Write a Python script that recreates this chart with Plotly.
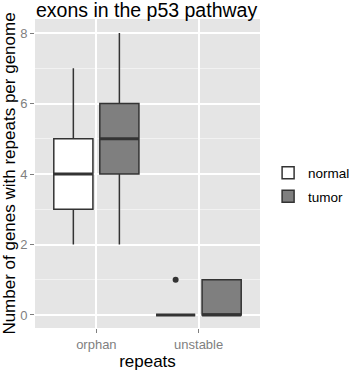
import plotly.graph_objects as go

categories = ["orphan", "unstable"]
# precomputed box statistics
normal_q1 = [3, 0]
normal_median = [4, 0]
normal_q3 = [5, 0]
normal_low = [2, 0]
normal_high = [7, 0]
normal_outlier_cat = ["unstable"]
normal_outlier_val = [1]

tumor_q1 = [4, 0]
tumor_median = [5, 0]
tumor_q3 = [6, 1]
tumor_low = [2, 0]
tumor_high = [8, 1]

y_ticks = [0, 2, 4, 6, 8]

line_col = "#333333"
BOXGAP = 0.1
BOXGROUPGAP = 0.15
SLOT = (1 - BOXGAP) / 2           # width of each dodged slot
GROUP_OFFSET = SLOT / 2            # centre offset of each dodged box
BOX_W = SLOT * (1 - BOXGROUPGAP)   # drawn box width

xpos = list(range(len(categories)))
idx = {c: i for i, c in enumerate(categories)}


def median_segments(medians, sign):
    xs, ys = [], []
    for i, m in zip(xpos, medians):
        c = i + sign * GROUP_OFFSET
        xs += [c - BOX_W / 2, c + BOX_W / 2, None]
        ys += [m, m, None]
    return xs, ys


fig = go.Figure()
fig.add_trace(go.Box(
    name="normal", x=xpos, legendgroup="normal",
    q1=normal_q1, median=normal_median, q3=normal_q3,
    lowerfence=normal_low, upperfence=normal_high,
    fillcolor="white", line=dict(color=line_col, width=1.5),
    boxpoints=False, whiskerwidth=0, hoverinfo="skip",
))
fig.add_trace(go.Box(
    name="tumor", x=xpos, legendgroup="tumor",
    q1=tumor_q1, median=tumor_median, q3=tumor_q3,
    lowerfence=tumor_low, upperfence=tumor_high,
    fillcolor="#7f7f7f", line=dict(color=line_col, width=1.5),
    boxpoints=False, whiskerwidth=0, hoverinfo="skip",
))
for med, sign in ((normal_median, -1), (tumor_median, 1)):
    mx, my = median_segments(med, sign)
    fig.add_trace(go.Scatter(x=mx, y=my, mode="lines", showlegend=False,
                             line=dict(color=line_col, width=3), hoverinfo="skip"))
fig.add_trace(go.Scatter(
    x=[idx[c] - GROUP_OFFSET for c in normal_outlier_cat], y=normal_outlier_val,
    mode="markers", marker=dict(color=line_col, size=6), showlegend=False,
))

fig.update_layout(
    width=351, height=371,
    margin=dict(l=35, r=91, t=19, b=43, autoexpand=False),
    paper_bgcolor="white", plot_bgcolor="#E5E5E5",
    boxmode="group", boxgap=BOXGAP, boxgroupgap=BOXGROUPGAP,
    font=dict(family="Liberation Sans, Arial, sans-serif", color="black"),
    title=dict(text="exons in the p53 pathway", x=36/351, xanchor="left",
               xref="container", y=1 - 10/371, yanchor="middle", yref="container",
               font=dict(size=19.5, color="black")),
    legend=dict(x=1.036, xanchor="left", y=0.463, yanchor="middle",
                font=dict(size=13.5, color="black"), bgcolor="rgba(0,0,0,0)",
                tracegroupgap=3),
    showlegend=True,
)
fig.update_xaxes(
    tickvals=xpos, ticktext=categories, automargin=False,
    range=[-0.6, 1.6], showgrid=True, gridcolor="white", gridwidth=1.5,
    ticks="outside", ticklen=4, tickcolor="#7f7f7f", tickwidth=1,
    tickfont=dict(size=13, color="#7f7f7f"), zeroline=False, showline=False,
    title=dict(text="repeats", font=dict(size=17, color="black"), standoff=2),
)
fig.update_yaxes(
    range=[-0.37, 8.4], tickvals=y_ticks, showgrid=True, gridcolor="white", gridwidth=1.5,
    automargin=False,
    ticks="outside", ticklen=4, tickcolor="#7f7f7f", tickwidth=1,
    tickfont=dict(size=13, color="#7f7f7f"), zeroline=False, showline=False,
    minor=dict(dtick=1, tick0=0, showgrid=True, gridcolor="#F2F2F2", gridwidth=0.8, ticks=""),
    title=dict(text="Number of genes with repeats per genome",
               font=dict(size=17, color="black"), standoff=2),
)

fig.write_html("out.html", config={"displayModeBar": False},
               post_script="document.body.style.margin='0px';")
